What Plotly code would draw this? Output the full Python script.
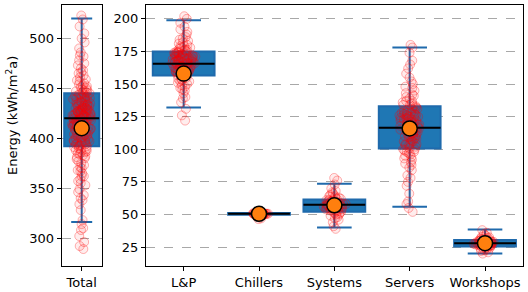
import plotly.graph_objects as go
from plotly.subplots import make_subplots

# ---------------- data ----------------
total_cat = ["Total"]
total_q1 = [392]
total_median = [420]
total_q3 = [445]
total_low = [316]
total_high = [520]
total_ref = [410]
total_points = [
    418, 405, 432, 396, 441, 388, 427, 411, 452, 379, 420, 436, 401, 446, 368, 423, 414, 458, 392, 430,
    409, 465, 384, 425, 398, 439, 357, 416, 448, 403, 428, 473, 375, 419, 434, 394, 444, 412, 482, 362,
    421, 406, 437, 390, 455, 381, 426, 415, 490, 349, 422, 400, 442, 386, 431, 410, 461, 371, 417, 447,
    397, 429, 404, 470, 338, 424, 413, 450, 383, 435, 407, 500, 353, 419, 440, 393, 427, 402, 457, 365,
    420, 433, 389, 445, 411, 478, 343, 423, 399, 438, 380, 426, 416, 512, 328, 418, 449, 395, 430, 408,
    463, 373, 421, 436, 391, 443, 414, 486, 359, 425, 403, 439, 385, 428, 410, 468, 334, 417, 453, 398,
    432, 406, 496, 367, 422, 441, 387, 429, 412, 459, 377, 424, 401, 446, 392, 434, 415, 519, 318, 419,
    437, 396, 427, 409, 475, 355, 426, 444, 382, 431, 404, 454, 370, 420, 413, 448, 389, 435, 400, 505,
    346, 423, 440, 394, 428, 411, 466, 362, 418, 451, 386, 433, 407, 483, 340, 425, 442, 397, 430, 414,
    310, 302, 296, 289, 523, 308, 292, 314]

cats = ["L&P", "Chillers", "Systems", "Servers", "Workshops"]
q1 = [156.5, 49.8, 52.0, 100.5, 25.5]
median = [165.5, 50.5, 57.5, 116.5, 28.0]
q3 = [175.0, 51.2, 61.5, 133.0, 30.5]
low = [132.0, 49.8, 40.0, 56.0, 20.0]
high = [199.0, 51.2, 73.5, 178.0, 38.5]
ref = [158.0, 50.5, 57.0, 116.0, 28.0]

lp_points = [
    166, 160, 172, 157, 176, 163, 169, 152, 180, 165, 158, 171, 149, 174, 162, 185, 167, 155, 170, 145,
    178, 164, 159, 173, 168, 190, 153, 166, 175, 161, 140, 171, 157, 182, 165, 169, 148, 176, 163, 194,
    160, 172, 154, 167, 179, 136, 170, 162, 174, 158, 186, 165, 151, 168, 177, 143, 171, 164, 197, 156,
    173, 161, 169, 147, 175, 166, 183, 159, 170, 131, 167, 163, 178, 154, 172, 188, 160, 165, 150, 174,
    168, 126, 171, 162, 181, 157, 176, 164, 200, 152, 169, 173, 139, 166, 161, 184, 158, 175, 170, 122,
    167, 163, 192, 155, 172, 146, 168, 179, 160, 202]
chillers_points = [
    50.5, 50.2, 50.8, 50.4, 51.0, 49.9, 50.6, 50.3, 51.3, 49.6, 50.7, 50.1, 50.9, 50.5, 49.3, 51.6,
    50.4, 50.6, 47.0, 50.5, 50.2, 50.8, 49.8, 51.1, 46.5, 50.5, 50.3, 50.7, 50.0, 50.9, 50.4, 51.4,
    49.5, 50.6, 50.2, 52.0, 49.0, 50.5, 50.8, 50.3]
systems_points = [
    57, 54, 60, 56, 62, 52, 58, 55, 64, 50, 59, 53, 61, 57, 66, 48, 58, 56, 63, 51,
    60, 55, 68, 46, 57, 59, 54, 62, 53, 70, 44, 58, 56, 61, 52, 65, 49, 57, 60, 73,
    41, 55, 59, 54, 63, 51, 58, 76, 39, 56, 61, 53, 67, 47, 57, 60, 55, 64, 50, 78]
servers_points = [
    117, 108, 126, 102, 133, 112, 121, 96, 140, 115, 105, 129, 90, 123, 110, 147, 118, 100, 131, 84,
    120, 113, 137, 98, 125, 107, 155, 116, 94, 128, 78, 122, 111, 143, 103, 134, 119, 162, 88, 124,
    109, 130, 99, 117, 72, 127, 114, 150, 104, 121, 93, 136, 118, 168, 66, 126, 110, 132, 101, 123,
    115, 145, 86, 119, 106, 139, 97, 128, 112, 174, 60, 125, 116, 134, 92, 120, 108, 158, 80, 127,
    113, 141, 103, 122, 117, 131, 95, 124, 110, 178, 55, 129, 118, 148, 89, 121, 106, 137, 100, 126,
    114, 165, 75, 123, 111, 133, 98, 119, 152, 52, 128, 115, 142, 104, 120, 180, 58, 125, 109, 135]
workshops_points = [
    28, 26.5, 29.5, 27.5, 31, 25, 28.5, 27, 32.5, 24, 29, 26, 30, 28, 34, 22.5, 28.5, 27, 30.5, 25.5,
    36, 21, 29, 27.5, 31.5, 26, 38, 20, 28, 29.5, 27, 30, 24.5, 28, 33, 23, 29, 26.5, 31, 25,
    28.5, 35, 22, 27.5, 30, 26, 32, 24, 29, 27]
cat_points = [lp_points, chillers_points, systems_points, servers_points, workshops_points]

left_ticks = [300, 350, 400, 450, 500]
right_ticks = [25, 50, 75, 100, 125, 150, 175, 200]

# ---------------- style ----------------
W, H = 528, 292
FONT = "DejaVu Sans"
BLUE = "#1f77b4"
WHISK = "#1f6aac"
CLEAR = "rgba(0,0,0,0)"
pt_marker = dict(symbol="circle", size=9, color="rgba(255,0,0,0.07)",
                 line=dict(color="rgba(255,0,0,0.3)", width=1))

fig = make_subplots(rows=1, cols=2)


def add_panel(col, x, q1v, medv, q3v, lowv, highv, refv, px_x, px_y, width, wwidth, jitter):
    fig.add_trace(go.Box(x=x, q1=q1v, median=medv, q3=q3v, lowerfence=lowv, upperfence=highv,
                         width=width, whiskerwidth=wwidth, fillcolor=BLUE,
                         line=dict(color=WHISK, width=2), boxpoints=False,
                         showlegend=False, hoverinfo="skip"), row=1, col=col)
    fig.add_trace(go.Box(x=px_x, y=px_y, boxpoints="all", pointpos=0, jitter=jitter,
                         width=width, whiskerwidth=0, fillcolor=CLEAR,
                         line=dict(color=CLEAR, width=0), marker=pt_marker,
                         showlegend=False, hoverinfo="skip"), row=1, col=col)
    fig.add_trace(go.Box(x=x, q1=medv, median=medv, q3=medv, lowerfence=medv, upperfence=medv,
                         width=width, whiskerwidth=0, fillcolor=CLEAR,
                         line=dict(color="black", width=2), boxpoints=False,
                         showlegend=False, hoverinfo="skip"), row=1, col=col)
    fig.add_trace(go.Scatter(x=x, y=refv, mode="markers",
                             marker=dict(color="#ff7f0e", size=15,
                                         line=dict(color="black", width=1.5)),
                             showlegend=False, hoverinfo="skip"), row=1, col=col)


add_panel(1, total_cat, total_q1, total_median, total_q3, total_low, total_high, total_ref,
          ["Total"] * len(total_points), total_points, 0.875, 0.6, 0.55)

px_x, px_y = [], []
for c, pts in zip(cats, cat_points):
    px_x += [c] * len(pts)
    px_y += pts
add_panel(2, cats, q1, median, q3, low, high, ref, px_x, px_y, 0.82, 0.56, 0.38)

ydom = [(H - 266) / H, (H - 4.5) / H]
axis_common = dict(showline=True, mirror=True, linecolor="black", linewidth=1.2,
                   ticks="outside", ticklen=4, tickwidth=1, tickcolor="black",
                   zeroline=False, tickfont=dict(family=FONT, size=13, color="black"))

fig.update_layout(
    width=W, height=H, margin=dict(l=0, r=0, t=0, b=0),
    paper_bgcolor="white", plot_bgcolor="white", boxmode="overlay",
    font=dict(family=FONT, size=13, color="black"),
    xaxis=dict(domain=[61.7 / W, 101.7 / W], type="category", range=[-0.5, 0.5],
               showgrid=False, **axis_common),
    xaxis2=dict(domain=[146 / W, 522.7 / W], type="category", range=[-0.5, 4.5],
                showgrid=False, **axis_common),
    yaxis=dict(domain=ydom, range=[272, 534], tickvals=left_ticks, showgrid=True,
               gridcolor="#a8a8a8", griddash="dash", gridwidth=1, **axis_common),
    yaxis2=dict(domain=ydom, range=[10.5, 211], tickvals=right_ticks, showgrid=True,
                gridcolor="#a8a8a8", griddash="dash", gridwidth=1, **axis_common),
)

fig.add_annotation(text="Energy (kWh/m<sup>2</sup>a)", xref="paper", yref="paper",
                   x=12 / W, y=1 - 116 / H, textangle=-90, showarrow=False,
                   font=dict(family=FONT, size=13, color="black"),
                   xanchor="center", yanchor="middle")

fig.write_html("out.html", config={"displayModeBar": False},
               post_script="document.body.style.margin='0px';")
